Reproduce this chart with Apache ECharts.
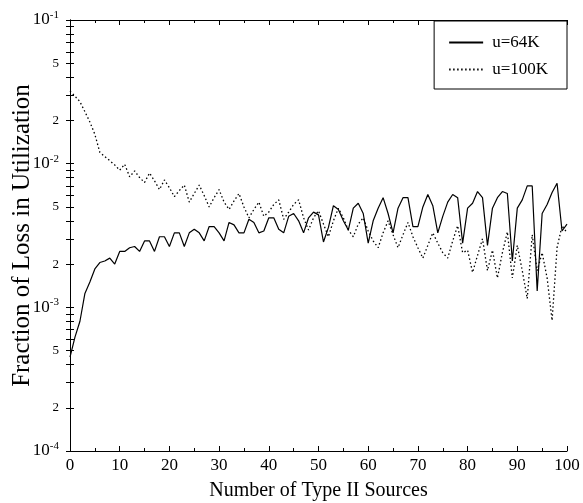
<!DOCTYPE html>
<html><head><meta charset="utf-8">
<script src="https://cdn.jsdelivr.net/npm/echarts@6/dist/echarts.min.js"></script>
<style>html,body{margin:0;padding:0;background:#fff}#c{width:583px;height:503px}</style>
</head><body><div id="c"></div>
<script>
const xValues = Array.from({length: 101}, (_, i) => i);
const u64K = [
4.5e-4,6.2e-4,8.0e-4,1.25e-3,1.5e-3,1.85e-3,2.05e-3,2.1e-3,2.2e-3,2.0e-3,
2.45e-3,2.45e-3,2.6e-3,2.65e-3,2.45e-3,2.9e-3,2.9e-3,2.45e-3,3.1e-3,3.1e-3,
2.65e-3,3.3e-3,3.3e-3,2.65e-3,3.3e-3,3.5e-3,3.3e-3,2.9e-3,3.65e-3,3.65e-3,
3.3e-3,2.9e-3,3.9e-3,3.75e-3,3.3e-3,3.3e-3,4.1e-3,3.9e-3,3.3e-3,3.4e-3,
4.2e-3,4.2e-3,3.5e-3,3.3e-3,4.3e-3,4.5e-3,4.0e-3,3.3e-3,4.2e-3,4.6e-3,
4.4e-3,2.85e-3,3.6e-3,5.1e-3,4.8e-3,4.0e-3,3.45e-3,4.9e-3,5.3e-3,4.5e-3,
2.8e-3,4.0e-3,4.9e-3,5.8e-3,4.5e-3,3.3e-3,4.9e-3,5.8e-3,5.8e-3,3.65e-3,
3.65e-3,5.0e-3,6.1e-3,5.1e-3,3.3e-3,4.3e-3,5.4e-3,6.1e-3,5.8e-3,2.8e-3,
4.9e-3,5.3e-3,6.4e-3,5.8e-3,2.7e-3,4.9e-3,5.8e-3,6.4e-3,6.2e-3,2.1e-3,
4.9e-3,5.6e-3,7.0e-3,7.0e-3,1.3e-3,4.5e-3,5.2e-3,6.3e-3,7.3e-3,3.4e-3,
3.8e-3];
const u100K = [
3.2e-2,2.95e-2,2.7e-2,2.3e-2,1.95e-2,1.6e-2,1.2e-2,1.12e-2,1.05e-2,9.8e-3,
9.0e-3,9.9e-3,8.1e-3,8.9e-3,8.0e-3,7.4e-3,8.6e-3,7.6e-3,6.6e-3,7.7e-3,
6.8e-3,5.9e-3,6.5e-3,7.1e-3,5.4e-3,6.2e-3,7.1e-3,6.0e-3,5.0e-3,5.8e-3,
6.6e-3,5.4e-3,4.8e-3,5.5e-3,6.2e-3,5.0e-3,4.2e-3,4.8e-3,5.4e-3,4.3e-3,
4.6e-3,5.2e-3,5.6e-3,4.1e-3,4.6e-3,5.2e-3,5.6e-3,4.2e-3,3.45e-3,4.2e-3,
4.7e-3,3.8e-3,3.1e-3,4.0e-3,4.9e-3,4.2e-3,3.45e-3,3.1e-3,3.8e-3,4.2e-3,
3.4e-3,2.9e-3,2.6e-3,3.3e-3,4.0e-3,3.2e-3,2.6e-3,3.2e-3,3.9e-3,3.1e-3,
2.6e-3,2.2e-3,2.7e-3,3.3e-3,2.8e-3,2.4e-3,2.2e-3,2.9e-3,3.7e-3,2.4e-3,
2.5e-3,1.75e-3,2.3e-3,3.0e-3,1.8e-3,2.5e-3,1.6e-3,2.4e-3,3.35e-3,1.6e-3,
2.7e-3,1.8e-3,1.15e-3,3.2e-3,1.8e-3,2.4e-3,1.6e-3,8.1e-4,2.6e-3,3.7e-3,
3.3e-3];
const seriesNames = ['u=64K', 'u=100K'];
const yTickMantissas = [1,2,3,4,5,6,7,8,9];
const yLabelMantissas = [1,2,5];
const yDecades = [-4,-3,-2,-1];

const yTicks = [], yLabels = [];
yDecades.forEach(d => {
  yTickMantissas.forEach(m => { const v = +(m + 'e' + d); if (v <= 0.1 + 1e-12) yTicks.push(v); });
  yLabelMantissas.forEach(m => { const v = +(m + 'e' + d); if (v <= 0.1 + 1e-12) yLabels.push(v); });
});

const FONT = '"Liberation Serif", "Times New Roman", serif';
function yFmt(v) {
  const e = Math.round(Math.log10(v));
  if (Math.abs(v - Math.pow(10, e)) / v < 1e-6) return '{b|10}{s|' + e + '}';
  return '{m|' + Math.round(v / Math.pow(10, Math.floor(Math.log10(v) + 1e-9))) + '}';
}
const chart = echarts.init(document.getElementById('c'), null, {renderer: 'canvas'});
const baseY = {
  type: 'log', logBase: 10, min: 1e-4, max: 1e-1,
  axisLine: {show: true, lineStyle: {color: '#000', width: 1}},
  splitLine: {show: false},
};
chart.setOption({
  backgroundColor: '#fff',
  animation: false,
  grid: {left: 70, right: 16, top: 20, bottom: 52, show: false, outerBoundsMode: 'none', containLabel: false},
  legend: {
    orient: 'vertical', right: 16, top: 21,
    data: seriesNames,
    borderColor: '#000', borderWidth: 1, backgroundColor: '#fff',
    padding: [13, 19, 11, 14], itemGap: 10, itemWidth: 34, itemHeight: 12,
    itemStyle: {opacity: 0},
    textStyle: {fontFamily: FONT, fontSize: 17, color: '#000', padding: [0, 0, 0, 4]}
  },
  xAxis: [{
    type: 'value', min: 0, max: 100, interval: 10,
    name: 'Number of Type II Sources', nameLocation: 'middle', nameGap: 30,
    nameTextStyle: {fontFamily: FONT, fontSize: 20, color: '#000'},
    axisLine: {lineStyle: {color: '#000'}},
    axisTick: {inside: true, length: 5, lineStyle: {color: '#000'}},
    minorTick: {show: true, splitNumber: 2, length: 3, lineStyle: {color: '#000'}},
    axisLabel: {fontFamily: FONT, fontSize: 17, color: '#000', margin: 6},
    splitLine: {show: false}
  }, {
    type: 'value', min: 0, max: 100, interval: 10, position: 'top',
    axisLine: {lineStyle: {color: '#000'}},
    axisTick: {inside: true, length: 5, lineStyle: {color: '#000'}},
    minorTick: {show: true, splitNumber: 2, length: 3, lineStyle: {color: '#000'}},
    axisLabel: {show: false}, splitLine: {show: false}
  }],
  yAxis: [Object.assign({}, baseY, {
    name: 'Fraction of Loss in Utilization', nameLocation: 'middle', nameGap: 35,
    nameMoveOverlap: false,
    nameTextStyle: {fontFamily: FONT, fontSize: 25, color: '#000'},
    axisTick: {inside: true, length: 4, customValues: yTicks, lineStyle: {color: '#000'}},
    axisLabel: {
      customValues: yLabels, formatter: yFmt, margin: 11, color: '#000',
      rich: {
        b: {fontFamily: FONT, fontSize: 17, color: '#000'},
        m: {fontFamily: FONT, fontSize: 13, color: '#000'},
        s: {fontFamily: FONT, fontSize: 11, color: '#000', padding: [0, 0, 10, 0]}
      }
    }
  }), Object.assign({}, baseY, {
    position: 'right',
    axisTick: {inside: true, length: 4, customValues: yTicks, lineStyle: {color: '#000'}},
    axisLabel: {show: false}
  })],
  series: [{
    name: seriesNames[0], type: 'line', symbol: 'none',
    data: xValues.map((x, i) => [x, u64K[i]]),
    lineStyle: {color: '#000', width: 1.2, type: 'solid'}, itemStyle: {color: '#000'}
  }, {
    name: seriesNames[1], type: 'line', symbol: 'none',
    data: xValues.map((x, i) => [x, u100K[i]]),
    lineStyle: {color: '#000', width: 1.3, type: [1.5, 2.5]}, itemStyle: {color: '#000'}
  }]
});
</script></body></html>
